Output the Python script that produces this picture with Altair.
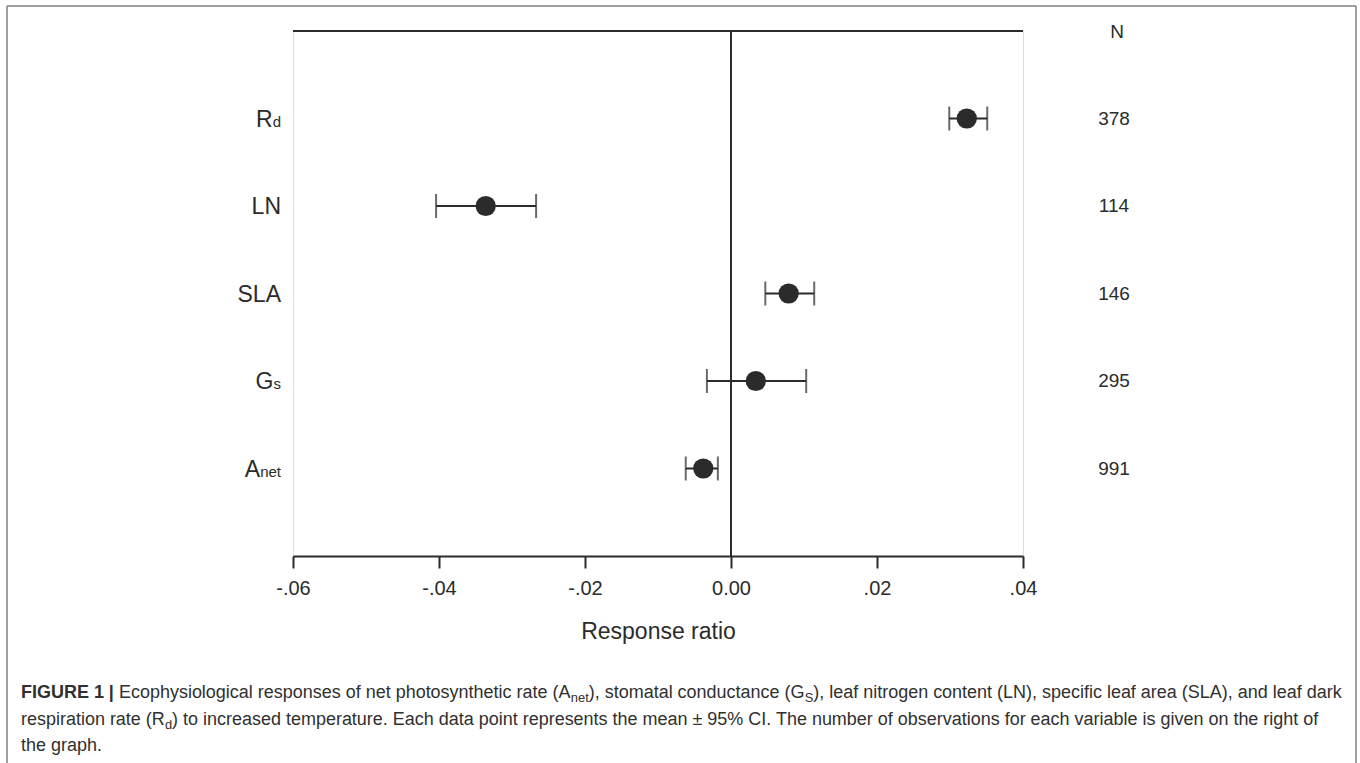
import altair as alt
import pandas as pd

# ---------------- data ----------------
VARIABLES = ["Rd", "LN", "SLA", "Gs", "Anet"]          # top to bottom
LABEL_MAIN = ["R", "LN", "SLA", "G", "A"]
LABEL_SUB = ["d", "", "", "s", "net"]
MEANS = [0.0323, -0.0336, 0.0079, 0.0034, -0.0038]
CI_LOW = [0.0299, -0.0404, 0.0047, -0.0033, -0.0062]
CI_HIGH = [0.0351, -0.0267, 0.0114, 0.0103, -0.0018]
N_OBS = ["378", "114", "146", "295", "991"]
X_DOMAIN = [-0.06, 0.04]
TICK_VALUES = [-0.06, -0.04, -0.02, 0.0, 0.02, 0.04]
TICK_LABELS = ["-.06", "-.04", "-.02", "0.00", ".02", ".04"]
X_TITLE = "Response ratio"
N_HEADER = "N"
CAPTION_LINES = [
    [("FIGURE 1 |", "bold"),
     (" Ecophysiological responses of net photosynthetic rate (A", "normal"),
     ("net", "sub"),
     ("), stomatal conductance (G", "normal"),
     ("S", "sub"),
     ("), leaf nitrogen content (LN), specific leaf area (SLA), and leaf dark", "normal")],
    [("respiration rate (R", "normal"),
     ("d", "sub"),
     (") to increased temperature. Each data point represents the mean \u00b1 95% CI. "
      "The number of observations for each variable is given on the right of", "normal")],
    [("the graph.", "normal")],
]

# ---------------- layout ----------------
FONT = "Liberation Sans"
DARK = "#2b2b2b"
TOTAL_W, TOTAL_H = 1360, 763
LEFT, TOP, W, H = 293, 31, 730, 525
LABEL_RIGHT = 281
LABEL_SIZE, LABEL_SUB_SIZE = 23, 15
N_X = 1114
CAP_LEFT, CAP_RIGHT = 21, 1342
CAP_BASELINES = [698, 725, 751]

_AFM = {' ': 278, '!': 278, '"': 355, '#': 556, '$': 556, '%': 889, '&': 667, "'": 191,
        '(': 333, ')': 333, '*': 389, '+': 584, ',': 278, '-': 333, '.': 278, '/': 278,
        ':': 278, ';': 278, '<': 584, '=': 584, '>': 584, '?': 556, '@': 1015,
        'A': 667, 'B': 667, 'C': 722, 'D': 722, 'E': 667, 'F': 611, 'G': 778, 'H': 722,
        'I': 278, 'J': 500, 'K': 667, 'L': 556, 'M': 833, 'N': 722, 'O': 778, 'P': 667,
        'Q': 778, 'R': 722, 'S': 667, 'T': 611, 'U': 722, 'V': 667, 'W': 944, 'X': 667,
        'Y': 667, 'Z': 611, 'a': 556, 'b': 556, 'c': 500, 'd': 556, 'e': 556, 'f': 278,
        'g': 556, 'h': 556, 'i': 222, 'j': 222, 'k': 500, 'l': 222, 'm': 833, 'n': 556,
        'o': 556, 'p': 556, 'q': 556, 'r': 333, 's': 500, 't': 278, 'u': 556, 'v': 500,
        'w': 722, 'x': 500, 'y': 500, 'z': 500, '|': 260, '\u00b1': 584}
_AFM_BOLD = {'F': 611, 'I': 278, 'G': 778, 'U': 722, 'R': 722, 'E': 667, ' ': 278,
             '1': 556, '|': 280}


def em_width(s, bold=False):
    tab = _AFM_BOLD if bold else _AFM
    return sum(tab.get(c, 556) for c in s) / 1000.0


SUB_RATIO = 0.72
line1_em = sum(em_width(t, k == "bold") * (SUB_RATIO if k == "sub" else 1.0)
               for t, k in CAPTION_LINES[0])
CAP_SIZE = (CAP_RIGHT - CAP_LEFT) / line1_em
CAP_SUB_SIZE = CAP_SIZE * SUB_RATIO

# ---------------- tables ----------------
df = pd.DataFrame({"var": VARIABLES, "main": LABEL_MAIN, "sub": LABEL_SUB,
                   "mean": MEANS, "lo": CI_LOW, "hi": CI_HIGH, "n": N_OBS})
df["main_x"] = [LABEL_RIGHT - LEFT - em_width(s) * LABEL_SUB_SIZE for s in LABEL_SUB]
df["sub_x"] = LABEL_RIGHT - LEFT

cap_rows = []
for li, segs in enumerate(CAPTION_LINES):
    cx = CAP_LEFT
    for text, kind in segs:
        bold = kind == "bold"
        size = CAP_SUB_SIZE if kind == "sub" else CAP_SIZE
        lead = text[:len(text) - len(text.lstrip(" "))]
        core = text.strip(" ")
        trail = text[len(text.rstrip(" ")):]
        cx += em_width(lead, bold) * size          # SVG drops leading spaces
        cap_rows.append({"text": core, "kind": kind, "px": cx - LEFT,
                         "py": CAP_BASELINES[li] - TOP + (4 if kind == "sub" else 0)})
        cx += em_width(core, bold) * size + em_width(trail, bold) * size
cap = pd.DataFrame(cap_rows)
one = pd.DataFrame({"k": [0]})

# ---------------- encodings ----------------
label_expr = " : ".join(f"abs(datum.value - ({v})) < 1e-9 ? '{l}'"
                        for v, l in zip(TICK_VALUES, TICK_LABELS)) + " : ''"
x_scale = alt.Scale(domain=X_DOMAIN, nice=False, zero=False)
x_axis = alt.Axis(values=TICK_VALUES, labelExpr=label_expr, grid=False,
                  domainColor=DARK, domainWidth=2, tickColor=DARK, tickWidth=2,
                  tickSize=12, labelFontSize=20, labelColor=DARK, labelFont=FONT,
                  labelBaseline="middle", labelPadding=20, labelFlush=False,
                  labelOverlap=False, title=X_TITLE, titleFont=FONT,
                  titleFontSize=23, titleFontWeight="normal", titleColor=DARK,
                  titleBaseline="middle", titleY=75)
y_enc = alt.Y("var:N", scale=alt.Scale(type="point", padding=1, domain=VARIABLES),
              axis=None)

base = alt.Chart(df)
ci = base.mark_rule(color=DARK, strokeWidth=2).encode(
    x=alt.X("lo:Q", scale=x_scale, axis=x_axis), x2="hi:Q", y=y_enc)
cap_lo = base.mark_tick(color=DARK, thickness=2, size=24).encode(
    x=alt.X("lo:Q"), y=y_enc)
cap_hi = base.mark_tick(color=DARK, thickness=2, size=24).encode(
    x=alt.X("hi:Q"), y=y_enc)
points = base.mark_circle(size=410, color=DARK, opacity=1).encode(
    x=alt.X("mean:Q"), y=y_enc)

zero_line = alt.Chart(one).mark_rule(color=DARK, strokeWidth=2).encode(
    x=alt.datum(0), y=alt.value(0), y2=alt.value(H))
top_line = alt.Chart(one).mark_rule(color=DARK, strokeWidth=2).encode(
    x=alt.value(0), x2=alt.value(W), y=alt.value(0))

lab_main = base.mark_text(align="right", baseline="alphabetic", fontSize=LABEL_SIZE,
                          dy=8, color=DARK, font=FONT).encode(
    x=alt.X("main_x:Q", scale=None, axis=None), y=y_enc, text="main:N")
lab_sub = base.transform_filter("datum.sub != ''").mark_text(
    align="right", baseline="alphabetic", fontSize=LABEL_SUB_SIZE, dy=8,
    color=DARK, font=FONT).encode(
    x=alt.X("sub_x:Q", scale=None, axis=None), y=y_enc, text="sub:N")

n_text = base.mark_text(align="center", baseline="middle", fontSize=19,
                        color=DARK, font=FONT).encode(
    x=alt.value(N_X - LEFT), y=y_enc, text="n:N")
n_head = alt.Chart(pd.DataFrame({"t": [N_HEADER]})).mark_text(
    align="center", baseline="middle", fontSize=19, color=DARK, font=FONT).encode(
    x=alt.value(N_X + 3 - LEFT), y=alt.value(1), text="t:N")

BORDER = "#808080"
b_top = alt.Chart(one).mark_rule(color=BORDER, strokeWidth=1.5).encode(
    x=alt.value(7 - LEFT), x2=alt.value(1356 - LEFT), y=alt.value(6 - TOP))
b_left = alt.Chart(one).mark_rule(color=BORDER, strokeWidth=1.5).encode(
    x=alt.value(7 - LEFT), y=alt.value(6 - TOP), y2=alt.value(TOTAL_H + 5 - TOP))
b_right = alt.Chart(one).mark_rule(color=BORDER, strokeWidth=1.5).encode(
    x=alt.value(1356 - LEFT), y=alt.value(6 - TOP), y2=alt.value(TOTAL_H + 5 - TOP))

cap_layers = []
for kind, size, weight in [("normal", CAP_SIZE, "normal"), ("bold", CAP_SIZE, "bold"),
                           ("sub", CAP_SUB_SIZE, "normal")]:
    cap_layers.append(
        alt.Chart(cap).transform_filter(f"datum.kind == '{kind}'").mark_text(
            align="left", baseline="alphabetic", fontSize=size, fontWeight=weight,
            color="#303030", font=FONT).encode(
            x=alt.X("px:Q", scale=None, axis=None),
            y=alt.Y("py:Q", scale=None, axis=None), text="text:N"))

chart = alt.layer(
    b_top, b_left, b_right, top_line, zero_line, ci, cap_lo, cap_hi, points,
    lab_main, lab_sub, n_text, n_head, *cap_layers
).properties(
    width=W, height=H,
    padding={"left": LEFT, "top": TOP, "right": TOTAL_W - LEFT - W,
             "bottom": TOTAL_H - TOP - H},
    autosize=alt.AutoSizeParams(type="none"),
    background="white",
).configure_view(stroke=None).configure(font=FONT)

chart.save("out.html", embed_options={"renderer": "svg", "actions": False})
